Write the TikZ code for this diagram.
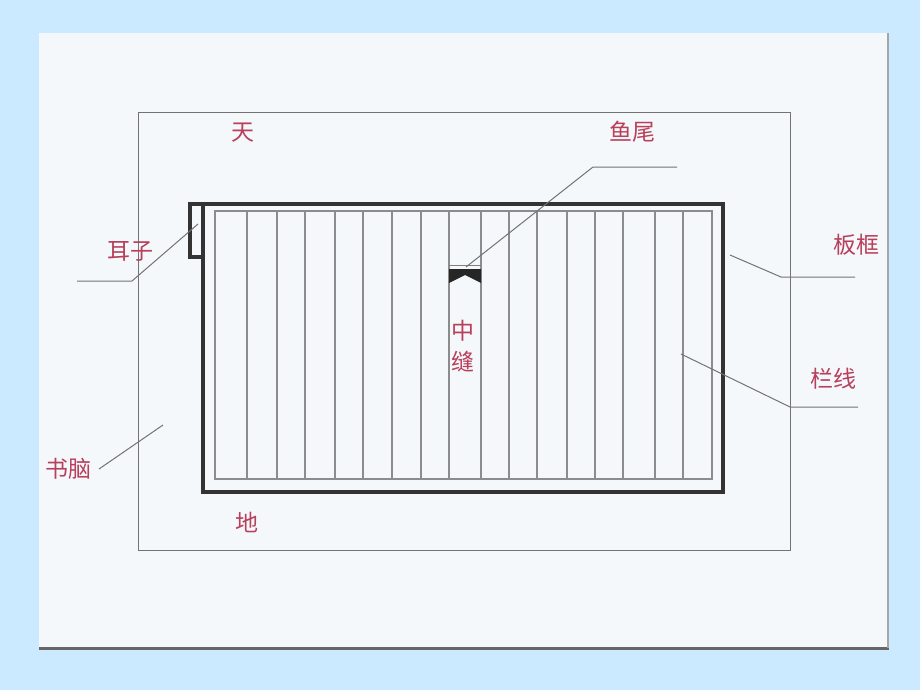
\documentclass[tikz,border=0pt]{standalone}
\usepackage{fontspec}
\newfontfamily\cjk{Noto Sans CJK SC}
\definecolor{hgblau}{RGB}{204,234,255}
\definecolor{papier}{RGB}{244,248,251}
\definecolor{rotschrift}{RGB}{184,64,92}

\begin{document}
\begin{tikzpicture}[x=1pt,y=-1pt,
		etikett/.style={text=rotschrift,font=\cjk\fontsize{23}{25}\selectfont,inner sep=0pt,align=center},
		leiter/.style={draw=black!55,line width=1pt},
		dick/.style={draw=black!80,line width=3.2pt},
		linie/.style={draw=black!45,line width=1.2pt}]
		% zeichne Hintergrund
		\fill[hgblau] (0,0) rectangle (920,690);
		\fill[papier] (39,33) rectangle (889,648);
		\draw[black!60, line width=3pt] (39,648) -- (889,648);
		\draw[black!35, line width=1.2pt] (888,33) -- (888,648);
		
		% zeichne Seite und Rahmen
		\draw[black!55, line width=1pt] (138,113) rectangle (790,550);
		\draw[linie] (215,211) rectangle (712,479);
		\foreach \x in {247,277,305,335,363,392,421,449,481,509,537,567,595,623,655,683}
			\draw[linie] (\x,211) -- (\x,479);
		\draw[dick] (203,204) rectangle (723,492);
		\draw[dick] (203,204) -- (190,204) -- (190,257) -- (203,257);
		
		% zeichne Fischschwanz
		\draw[black!50, line width=0.8pt] (449,265) -- (481,265);
		\fill[black!85] (449,269) -- (481,269) -- (481,283) -- (465,275) -- (449,283) -- cycle;
		
		% zeichne Labels
		\node[etikett] (tian) at (243,133) {天};
		\node[etikett] (yuwei) at (632,132) {鱼尾};
		\node[etikett] (erzi) at (130,251) {耳子};
		\node[etikett] (bankuang) at (856,245) {板框};
		\node[etikett] (zhongfeng) at (463,346) {中\\[6pt]缝};
		\node[etikett] (lanxian) at (833,379) {栏线};
		\node[etikett] (shunao) at (68,469) {书脑};
		\node[etikett] (di) at (247,522) {地};
		
		% zeichne Hinweislinien
		\coordinate (yuwei1) at (466,267);
		\coordinate (yuwei2) at (593,167);
		\coordinate (yuwei3) at (677,167);
		\draw[leiter] (yuwei1) -- (yuwei2) -- (yuwei3);
		\coordinate (erzi1) at (77,281);
		\coordinate (erzi2) at (132,281);
		\coordinate (erzi3) at (198,224);
		\draw[leiter] (erzi1) -- (erzi2) -- (erzi3);
		\coordinate (bankuang1) at (730,255);
		\coordinate (bankuang2) at (781,277);
		\coordinate (bankuang3) at (855,277);
		\draw[leiter] (bankuang1) -- (bankuang2) -- (bankuang3);
		\coordinate (lanxian1) at (681,354);
		\coordinate (lanxian2) at (790,407);
		\coordinate (lanxian3) at (858,407);
		\draw[leiter] (lanxian1) -- (lanxian2) -- (lanxian3);
		\coordinate (shunao1) at (99,469);
		\coordinate (shunao2) at (163,425);
		\draw[leiter] (shunao1) -- (shunao2);
	\end{tikzpicture}
\end{document}
